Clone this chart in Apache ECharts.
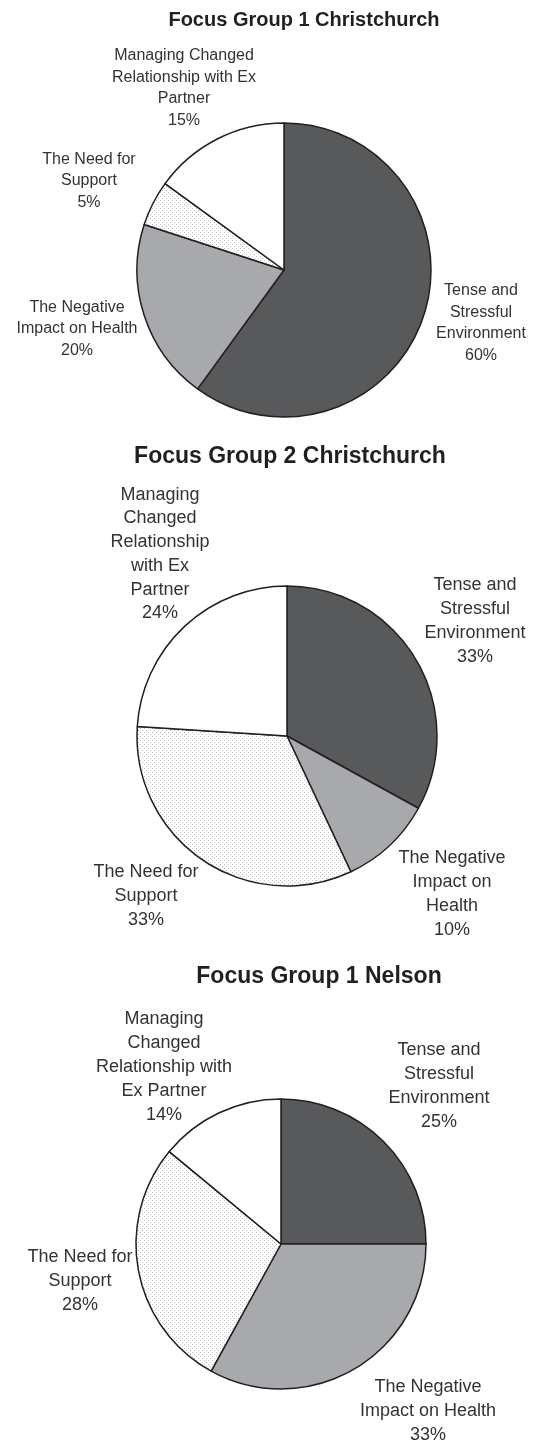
<!DOCTYPE html>
<html><head><meta charset="utf-8">
<script src="https://cdn.jsdelivr.net/npm/echarts@6/dist/echarts.min.js"></script>
<style>html,body{margin:0;padding:0;background:#fff}#c{width:534px;height:1443px}</style>
</head><body><div id="c"></div>
<script>
// ---- data ----
const categories = ['Tense and Stressful Environment', 'The Negative Impact on Health', 'The Need for Support', 'Managing Changed Relationship with Ex Partner'];
const titles = ['Focus Group 1 Christchurch', 'Focus Group 2 Christchurch', 'Focus Group 1 Nelson'];
const valuesFG1Chch = [60, 20, 5, 15];
const valuesFG2Chch = [33, 10, 33, 24];
const valuesFG1Nelson = [25, 33, 28, 14];
const labelsFG1Chch = ['Tense and\nStressful\nEnvironment', 'The Negative\nImpact on Health', 'The Need for\nSupport', 'Managing Changed\nRelationship with Ex\nPartner'];
const labelsFG2Chch = ['Tense and\nStressful\nEnvironment', 'The Negative\nImpact on\nHealth', 'The Need for\nSupport', 'Managing\nChanged\nRelationship\nwith Ex\nPartner'];
const labelsFG1Nelson = ['Tense and\nStressful\nEnvironment', 'The Negative\nImpact on Health', 'The Need for\nSupport', 'Managing\nChanged\nRelationship with\nEx Partner'];

// ---- layout / style ----
const FONT = "'Liberation Sans', Arial, sans-serif";
const pies = [
  { values: valuesFG1Chch, labels: labelsFG1Chch, title: titles[0], center: [284, 270], r: 147,
    titlePos: [304, 20], titleSize: 20, fs: 16, lh: 21.5,
    labelPos: [[481, 323], [77, 329], [89, 181], [184, 88]] },
  { values: valuesFG2Chch, labels: labelsFG2Chch, title: titles[1], center: [287, 736], r: 150,
    titlePos: [290, 457], titleSize: 23, fs: 18, lh: 23.7,
    labelPos: [[475, 621], [452, 894], [146, 896], [160, 554]] },
  { values: valuesFG1Nelson, labels: labelsFG1Nelson, title: titles[2], center: [281, 1244], r: 145,
    titlePos: [319, 977], titleSize: 23, fs: 18, lh: 24,
    labelPos: [[439, 1086], [428, 1411], [80, 1281], [164, 1067]] }
];

// dotted fill pattern
const pat = document.createElement('canvas');
pat.width = 4; pat.height = 4;
const pc = pat.getContext('2d');
pc.fillStyle = '#ffffff'; pc.fillRect(0, 0, 4, 4);
pc.fillStyle = '#c2c2c2';
pc.fillRect(0, 0, 1, 1); pc.fillRect(2, 2, 1, 1);

const fills = ['#58595b', '#a7a9ac', { image: pat, repeat: 'repeat' }, '#ffffff'];

const chart = echarts.init(document.getElementById('c'), null, { renderer: 'canvas' });
chart.setOption({
  backgroundColor: '#ffffff',
  animation: false,
  title: pies.map(p => ({
    text: p.title,
    left: p.titlePos[0],
    top: p.titlePos[1] - p.titleSize * 0.5,
    textAlign: 'center',
    padding: 0,
    textStyle: { fontFamily: FONT, fontWeight: 'bold', fontSize: p.titleSize, color: '#231f20' }
  })),
  series: pies.map(p => ({
    type: 'pie',
    center: p.center,
    radius: p.r,
    startAngle: 90,
    clockwise: true,
    avoidLabelOverlap: false,
    silent: true,
    itemStyle: { borderColor: '#231f20', borderWidth: 1.5 },
    label: {
      show: true,
      position: 'outside',
      fontFamily: FONT,
      fontSize: p.fs,
      lineHeight: p.lh,
      color: '#333333',
      align: 'center',
      formatter: prm => p.labels[prm.dataIndex] + '\n' + prm.value + '%'
    },
    labelLine: { show: false },
    labelLayout: prm => ({
      x: p.labelPos[prm.dataIndex][0],
      y: p.labelPos[prm.dataIndex][1],
      align: 'center',
      verticalAlign: 'middle'
    }),
    data: categories.map((name, i) => ({
      name: name,
      value: p.values[i],
      itemStyle: { color: fills[i] }
    }))
  }))
});
</script>
</body></html>
